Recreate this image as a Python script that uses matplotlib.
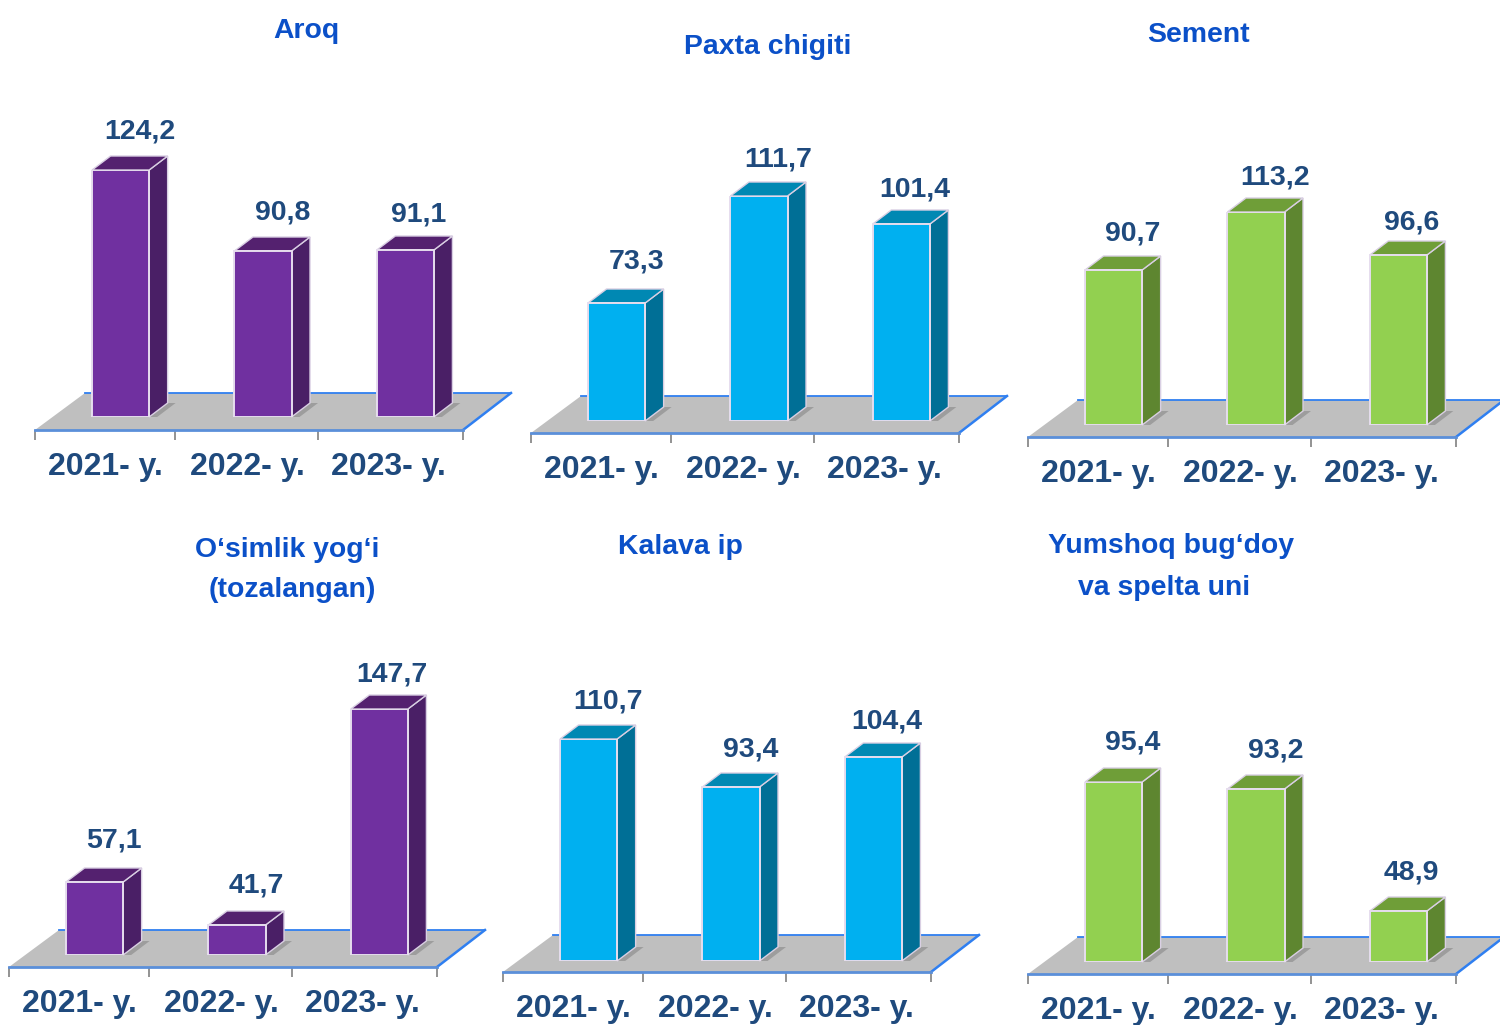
import numpy as np
import matplotlib
matplotlib.use("Agg")
import matplotlib.pyplot as plt
from matplotlib.patches import Polygon
from matplotlib.transforms import IdentityTransform

years = ["2021- y.", "2022- y.", "2023- y."]

aroq = [124.2, 90.8, 91.1]
paxta = [73.3, 111.7, 101.4]
sement = [90.7, 113.2, 96.6]
osimlik = [57.1, 41.7, 147.7]
kalava = [110.7, 93.4, 104.4]
yumshoq = [95.4, 93.2, 48.9]

W, H = 1500, 1025
PURPLE = ("#7030A0", "#4A1F66", "#54216F")
BLUE = ("#00B0F0", "#006F96", "#0088B3")
GREEN = ("#92D050", "#5E8630", "#6F9E38")

# values, colours, axis left px, front-line px, bar-base px, bar-top px, label dy px
panels = [
    (aroq,    PURPLE, 35,   430, 417, [170, 251, 250], [41, 41, 38]),
    (paxta,   BLUE,   531,  433, 421, [303, 196, 224], [44, 39, 37]),
    (sement,  GREEN,  1028, 437, 425, [270, 212, 255], [39, 37, 35]),
    (osimlik, PURPLE, 9,    967, 955, [882, 925, 709], [44, 42, 37]),
    (kalava,  BLUE,   503,  972, 961, [739, 787, 757], [40, 40, 38]),
    (yumshoq, GREEN,  1028, 974, 962, [782, 789, 911], [42, 41, 41]),
]
titles = [
    ("Aroq", 306, 31), ("Paxta chigiti", 768, 47), ("Sement", 1198, 35),
    ("O‘simlik yog‘i", 287, 550), ("(tozalangan)", 292, 590),
    ("Kalava ip", 680, 547),
    ("Yumshoq bug‘doy", 1171, 546), ("va spelta uni", 1164, 588),
]
AX_W, DEPTH_X, DEPTH_Y, FLOOR_D, FLOOR_X = 428, 18.5, 14, 37, 48
LABEL_DX = [19.5, 19.5, 13]
TICK_POS = [-0.5, 0.481, 1.484, 2.5]
LABEL_POS = [-0.005, 0.987, 1.975]

plt.rcParams["font.family"] = ["Liberation Sans", "DejaVu Sans"]
plt.rcParams["font.weight"] = "bold"
fig = plt.figure(figsize=(W / 100, H / 100), dpi=100, facecolor="white")
ident = IdentityTransform()


def poly(ax, pts, z, **kw):
    ax.add_patch(Polygon(pts, closed=True, transform=ident, clip_on=False, zorder=z, **kw))


for vals, cols, left, front, base, tops, dys in panels:
    top_px = min(tops)
    ax = fig.add_axes([left / W, 1 - base / H, AX_W / W, (base - top_px) / H])
    order = np.argsort(vals)
    xv = np.r_[0.0, np.array(vals)[order]]
    yv = np.r_[0.0, base - np.array(tops, float)[order]]
    ax.set_yscale("function", functions=(lambda v, a=xv, b=yv: np.interp(v, a, b),
                                         lambda v, a=xv, b=yv: np.interp(v, b, a)))
    ax.set_xlim(-0.5, 2.5)
    ax.set_ylim(0, max(vals))
    ax.patch.set_visible(False)
    for s in ("top", "left", "right"):
        ax.spines[s].set_visible(False)
    sp = ax.spines["bottom"]
    sp.set_position(("outward", (front - base) * 0.72))
    sp.set_color("#5B8FD9")
    sp.set_linewidth(2)
    ax.set_yticks([])
    ax.minorticks_off()
    ax.set_xticks(LABEL_POS, years, fontsize=23, color="#1F4A7D")
    ax.tick_params(axis="x", which="major", length=0, pad=16)
    ax.set_xticks(TICK_POS, minor=True)
    ax.tick_params(axis="x", which="minor", length=7, width=1.2, color="#808080")

    # floor, in display pixels measured from the axis line
    fy = H - front
    by = fy + FLOOR_D
    fl, fr = float(left), float(left + AX_W)
    poly(ax, [(fl, fy), (fr, fy), (fr + FLOOR_X, by), (fl + FLOOR_X + 2, by)], 1,
         facecolor="#BFBFBF", edgecolor="none")
    ax.plot([fl + FLOOR_X + 2, fr + FLOOR_X], [by, by], color="#2F7FF0", lw=1.3,
            transform=ident, clip_on=False, zorder=1.5)
    ax.plot([fr, fr + FLOOR_X], [fy, by], color="#2F7FF0", lw=1.8,
            transform=ident, clip_on=False, zorder=1.5)

    xs = np.arange(3) * 0.998 + 0.1
    ax.bar(xs, vals, width=0.4, color=cols[0], edgecolor="#E6DDEE", linewidth=1.4, zorder=4)
    for x, v, dy, ldx in zip(xs, vals, dys, LABEL_DX):
        (x0, y1) = ax.transData.transform((x - 0.2, v))
        (x1, y0) = ax.transData.transform((x + 0.2, 0))
        d = dict(edgecolor="#D9CFE3", linewidth=1.0)
        poly(ax, [(x1, y0), (x1 + DEPTH_X, y0 + DEPTH_Y), (x1 + DEPTH_X + 8, y0 + DEPTH_Y),
                  (x1 + 8, y0)], 2, facecolor="#6A6A6A", edgecolor="none", alpha=0.4)
        poly(ax, [(x1, y0), (x1, y1), (x1 + DEPTH_X, y1 + DEPTH_Y), (x1 + DEPTH_X, y0 + DEPTH_Y)],
             3, facecolor=cols[1], **d)
        poly(ax, [(x0, y1), (x0 + DEPTH_X, y1 + DEPTH_Y), (x1 + DEPTH_X, y1 + DEPTH_Y), (x1, y1)],
             3, facecolor=cols[2], **d)
        ax.annotate(f"{v:.1f}".replace(".", ","), xy=(x, v), xytext=(ldx, dy - 2.5),
                    textcoords="offset pixels", ha="center", va="center",
                    fontsize=20.5, color="#1F4A7D", annotation_clip=False)

for text, x, y in titles:
    fig.text(x / W, 1 - y / H, text, ha="center", va="center", fontsize=20.4, color="#0B50C8")

fig.savefig("out.png", dpi=100)
